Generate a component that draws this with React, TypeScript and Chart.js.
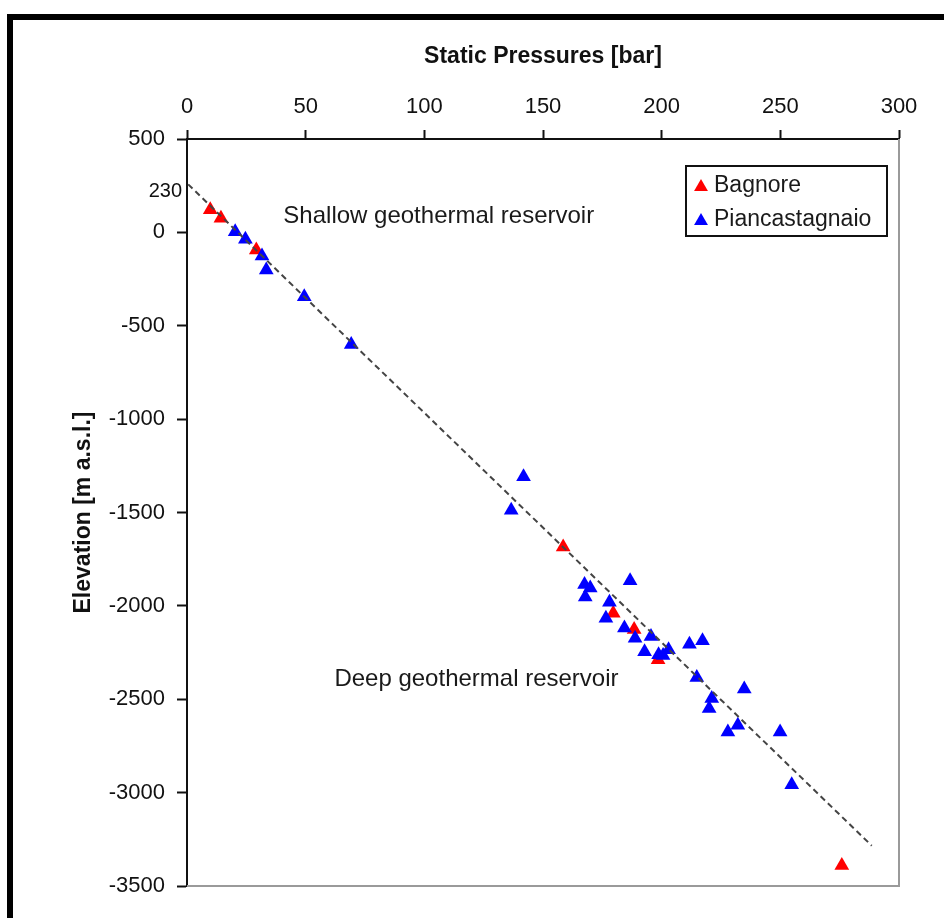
import React, { useEffect, useRef } from "react";
import { Chart, registerables } from "chart.js";
Chart.register(...registerables);

// ---- Data ----
const bagnorePressure = [9.8, 14.3, 29.2, 158.5, 179.6, 188.4, 198.5, 275.9];
const bagnoreElevation = [121, 76, -94, -1685, -2040, -2126, -2288, -3390];

const piancPressure = [
  20.3, 24.6, 31.6, 33.4, 49.4, 69.2, 141.8, 136.6, 167.5, 169.9, 167.8, 186.7,
  178.0, 176.5, 184.3, 188.8, 195.5, 192.8, 198.7, 200.6, 202.9, 211.7, 217.2,
  214.8, 234.8, 221.1, 220.0, 227.9, 232.1, 249.9, 254.8,
];
const piancElevation = [
  4, -37, -126, -202, -345, -601, -1309, -1488, -1886, -1904, -1953, -1865,
  -1980, -2066, -2119, -2173, -2164, -2245, -2262, -2266, -2235, -2205, -2187,
  -2383, -2445, -2496, -2549, -2675, -2639, -2675, -2958,
];

const trendPressure = [0.5, 288.5];
const trendElevation = [257, -3284];

const xTickValues = [0, 50, 100, 150, 200, 250, 300];
const yTickValues = [-3500, -3000, -2500, -2000, -1500, -1000, -500, 0, 500];
const markedElevation = 230;

const annotationTexts = ["Shallow geothermal reservoir", "Deep geothermal reservoir"];
const annotationPressure = [40.6, 62.1];
const annotationElevation = [83, -2395];

const legendLabels = ["Bagnore", "Piancastagnaio"];
const seriesColors = ["#ff0000", "#0000ff"];

const FONT = "'Liberation Sans', Arial, Helvetica, sans-serif";

function toPoints(xs: number[], ys: number[]) {
  return xs.map((x, i) => ({ x, y: ys[i] }));
}

function drawTriangle(ctx: CanvasRenderingContext2D, cx: number, cy: number, r: number) {
  ctx.beginPath();
  ctx.moveTo(cx, cy - r);
  ctx.lineTo(cx + r * Math.sin((2 * Math.PI) / 3), cy - r * Math.cos((2 * Math.PI) / 3));
  ctx.lineTo(cx + r * Math.sin((4 * Math.PI) / 3), cy - r * Math.cos((4 * Math.PI) / 3));
  ctx.closePath();
  ctx.fill();
}

const decorPlugin = {
  id: "decor",
  beforeDraw(chart: any) {
    const ctx = chart.ctx as CanvasRenderingContext2D;
    ctx.save();
    ctx.fillStyle = "#ffffff";
    ctx.fillRect(0, 0, chart.width, chart.height);
    ctx.fillStyle = "#000000";
    ctx.fillRect(7, 14, 6, chart.height - 14);
    ctx.fillRect(7, 14, chart.width - 7, 6);
    ctx.restore();
  },
  beforeDatasetsDraw(chart: any) {
    const ctx = chart.ctx as CanvasRenderingContext2D;
    const { left, right, top, bottom } = chart.chartArea;
    ctx.save();
    ctx.strokeStyle = "#9a9a9a";
    ctx.lineWidth = 2;
    ctx.beginPath();
    ctx.moveTo(right, top);
    ctx.lineTo(right, bottom);
    ctx.lineTo(left, bottom);
    ctx.stroke();
    ctx.restore();
  },
  afterDraw(chart: any) {
    const ctx = chart.ctx as CanvasRenderingContext2D;
    const xs = chart.scales.x;
    const ys = chart.scales.y;
    const { left, right, top } = chart.chartArea;
    ctx.save();
    // extra marked elevation label on the y axis
    ctx.fillStyle = "#111111";
    ctx.font = `20px ${FONT}`;
    ctx.textAlign = "right";
    ctx.textBaseline = "middle";
    ctx.fillText(String(markedElevation), left - 5, ys.getPixelForValue(markedElevation) + 2);
    // annotations
    ctx.fillStyle = "#1a1a1a";
    ctx.font = `24px ${FONT}`;
    ctx.textAlign = "left";
    annotationTexts.forEach((t, i) => {
      ctx.fillText(t, xs.getPixelForValue(annotationPressure[i]), ys.getPixelForValue(annotationElevation[i]));
    });
    // legend box
    const bx = right - 213;
    const by = top + 27;
    const bw = 201;
    const bh = 70;
    ctx.fillStyle = "#ffffff";
    ctx.fillRect(bx, by, bw, bh);
    ctx.strokeStyle = "#111111";
    ctx.lineWidth = 2;
    ctx.strokeRect(bx, by, bw, bh);
    ctx.font = `23px ${FONT}`;
    legendLabels.forEach((label, i) => {
      const cy = by + 20 + i * 34;
      ctx.fillStyle = seriesColors[i];
      drawTriangle(ctx, bx + 15, cy + 1, 8);
      ctx.fillStyle = "#1a1a1a";
      ctx.fillText(label, bx + 28, cy);
    });
    ctx.restore();
  },
};

export default function App() {
  const canvasRef = useRef<HTMLCanvasElement | null>(null);

  useEffect(() => {
    if (!canvasRef.current) return;
    const chart = new Chart(canvasRef.current, {
      type: "scatter",
      data: {
        datasets: [
          {
            type: "line",
            label: "trend",
            data: toPoints(trendPressure, trendElevation),
            borderColor: "#444444",
            borderWidth: 2,
            borderDash: [6, 4],
            pointRadius: 0,
            fill: false,
            order: 0,
          } as any,
          {
            label: legendLabels[1],
            data: toPoints(piancPressure, piancElevation),
            pointStyle: "triangle",
            pointRadius: 8.5,
            pointBorderWidth: 0,
            backgroundColor: seriesColors[1],
            borderColor: seriesColors[1],
            order: 1,
          },
          {
            label: legendLabels[0],
            data: toPoints(bagnorePressure, bagnoreElevation),
            pointStyle: "triangle",
            pointRadius: 8.5,
            pointBorderWidth: 0,
            backgroundColor: seriesColors[0],
            borderColor: seriesColors[0],
            order: 2,
          },
        ],
      },
      options: {
        responsive: false,
        animation: false,
        events: [],
        layout: { padding: { left: 0, top: 0, right: 45, bottom: 32 } },
        plugins: {
          legend: { display: false },
          tooltip: { enabled: false },
          title: { display: false },
        },
        scales: {
          x: {
            type: "linear",
            position: "top",
            min: 0,
            max: 300,
            afterBuildTicks: (scale: any) => {
              scale.ticks = xTickValues.map((v) => ({ value: v }));
            },
            afterFit: (scale: any) => {
              scale.height = 139;
            },
            ticks: {
              autoSkip: false,
              maxRotation: 0,
              padding: 10,
              color: "#111111",
              font: { family: FONT, size: 22 },
              callback: (v: any) => String(v),
            },
            grid: {
              drawOnChartArea: false,
              drawTicks: true,
              tickLength: 9,
              tickWidth: 2,
              tickColor: "#111111",
            },
            border: { display: true, color: "#111111", width: 2 },
            title: {
              display: true,
              text: "Static Pressures [bar]",
              color: "#111111",
              font: { family: FONT, size: 23, weight: "bold" },
              padding: { top: 43, bottom: 0 },
            },
          },
          y: {
            type: "linear",
            position: "left",
            min: -3500,
            max: 500,
            afterBuildTicks: (scale: any) => {
              scale.ticks = yTickValues.map((v) => ({ value: v }));
            },
            afterFit: (scale: any) => {
              scale.width = 187;
            },
            ticks: {
              autoSkip: false,
              padding: 12,
              color: "#111111",
              callback: (v: any) => String(v),
              font: { family: FONT, size: 22 },
            },
            grid: {
              drawOnChartArea: false,
              drawTicks: true,
              tickLength: 10,
              tickWidth: 2,
              tickColor: "#111111",
            },
            border: { display: true, color: "#111111", width: 2 },
            title: {
              display: true,
              text: "Elevation [m a.s.l.]",
              color: "#111111",
              font: { family: FONT, size: 23, weight: "bold" },
              padding: { top: 70, bottom: 0 },
            },
          },
        },
      },
      plugins: [decorPlugin],
    } as any);
    return () => chart.destroy();
  }, []);

  return (
    <canvas
      ref={canvasRef}
      width={944}
      height={918}
      style={{ position: "absolute", left: 0, top: 0, display: "block" }}
    />
  );
}
